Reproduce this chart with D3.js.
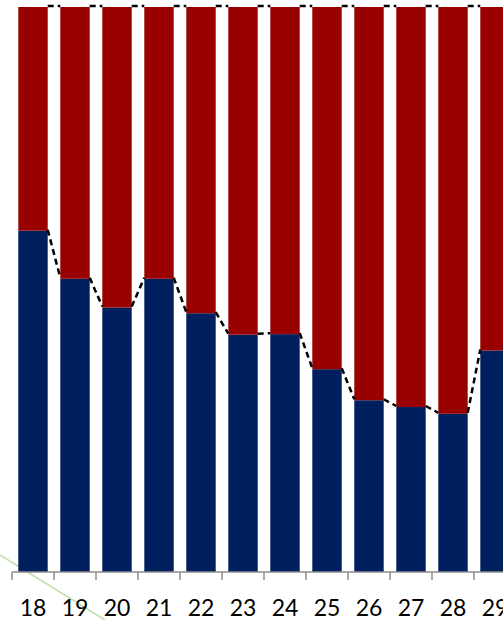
<!DOCTYPE html>
<html>
<head>
<meta charset="utf-8">
<script src="https://cdn.jsdelivr.net/npm/d3@7"></script>
<style>
  body { margin: 0; background: #fff; }
  svg { display: block; }
</style>
</head>
<body>
<div id="chart"></div>
<script>
// 年龄 / 类别
const categories = ['18', '19', '20', '21', '22', '23', '24', '25', '26', '27', '28', '29'];
// 蓝色（下层）百分比
const blueValues = [60.4, 51.9, 46.8, 51.9, 45.8, 42.0, 42.1, 35.9, 30.4, 29.2, 28.0, 39.2];
// 红色（上层）百分比
const redValues = [39.6, 48.1, 53.2, 48.1, 54.2, 58.0, 57.9, 64.1, 69.6, 70.8, 72.0, 60.8];

const width = 503, height = 620;
const svg = d3.select('#chart').append('svg')
    .attr('width', width)
    .attr('height', height);

const x = d3.scaleBand()
    .domain(categories)
    .range([12, 12 + 42 * categories.length])
    .paddingInner(0.3)
    .paddingOuter(0.15);

const y = d3.scaleLinear()
    .domain([0, 100])
    .range([572, 7]);

const stackData = categories.map((c, i) => ({ cat: c, blue: blueValues[i], red: redValues[i] }));
const series = d3.stack().keys(['blue', 'red'])(stackData);
const colors = { blue: '#001f5f', red: '#990000' };

// 背景装饰线（在柱子后面）
svg.append('line')
    .attr('x1', 0).attr('y1', 555)
    .attr('x2', 105).attr('y2', 620)
    .attr('stroke', '#c3dfae')
    .attr('stroke-width', 1.5);

// 柱子
svg.append('g')
    .selectAll('g')
    .data(series)
    .join('g')
    .attr('fill', d => colors[d.key])
    .selectAll('rect')
    .data(d => d)
    .join('rect')
    .attr('x', d => x(d.data.cat))
    .attr('y', d => y(d[1]))
    .attr('width', x.bandwidth())
    .attr('height', d => y(d[0]) - y(d[1]));

// 系列线（虚线）
const seriesLines = [];
series.forEach(s => {
    for (let i = 0; i < s.length - 1; i++) {
        seriesLines.push({
            x1: x(categories[i]) + x.bandwidth(),
            y1: y(s[i][1]),
            x2: x(categories[i + 1]),
            y2: y(s[i + 1][1])
        });
    }
});

svg.append('g')
    .selectAll('line')
    .data(seriesLines)
    .join('line')
    .attr('x1', d => d.x1)
    .attr('y1', d => d.y1 - 1)
    .attr('x2', d => d.x2)
    .attr('y2', d => d.y2 - 1)
    .attr('stroke', '#000')
    .attr('stroke-width', 2.5)
    .attr('stroke-dasharray', '6,4');

// X轴
const axisY = y(0);
const step = x.step();
const tickPos = d3.range(categories.length + 1).map(i => 12 + i * step);

svg.append('line')
    .attr('x1', 12).attr('x2', width)
    .attr('y1', axisY).attr('y2', axisY)
    .attr('stroke', '#8c8c8c')
    .attr('stroke-width', 1.5);

svg.append('g')
    .selectAll('line')
    .data(tickPos)
    .join('line')
    .attr('x1', d => d).attr('x2', d => d)
    .attr('y1', axisY).attr('y2', axisY + 8)
    .attr('stroke', '#8c8c8c')
    .attr('stroke-width', 1.5);

svg.append('g')
    .selectAll('text')
    .data(categories)
    .join('text')
    .attr('x', d => x(d) + x.bandwidth() / 2)
    .attr('y', 616)
    .attr('text-anchor', 'middle')
    .attr('font-family', 'Lato, "Open Sans", sans-serif')
    .attr('font-size', '23px')
    .attr('fill', '#000')
    .text(d => d);
</script>
</body>
</html>
